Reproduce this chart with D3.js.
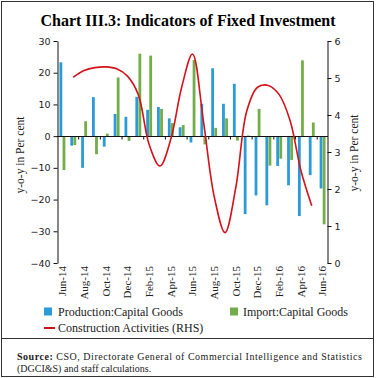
<!DOCTYPE html>
<html>
<head>
<meta charset="utf-8">
<script src="https://cdn.jsdelivr.net/npm/d3@7"></script>
<style>
  body { margin: 0; background: #fff; }
  .serif { font-family: "Liberation Serif", "Times New Roman", serif; }
  .tick text { font-family: "DejaVu Sans", Verdana, sans-serif; font-size: 9.5px; fill: #222; }
</style>
</head>
<body>
<div id="chart"></div>
<script>
// months shown on the category axis
const months = ["Jun-14","Jul-14","Aug-14","Sep-14","Oct-14","Nov-14","Dec-14","Jan-15","Feb-15","Mar-15","Apr-15","May-15",
  "Jun-15","Jul-15","Aug-15","Sep-15","Oct-15","Nov-15","Dec-15","Jan-16","Feb-16","Mar-16","Apr-16","May-16","Jun-16"];

// y-o-y growth, per cent (LHS)
const production = [23.3, -3.0, -10.0, 12.3, -3.3, 7.0, 6.1, 12.4, 8.3, 9.2, 5.6, 2.8,
  -2.0, 10.2, 21.4, 10.2, 16.5, -24.6, -18.7, -21.8, -9.4, -15.5, -25.2, -12.3, -16.5];
const imports = [-10.7, -2.8, 4.7, -5.7, 0.8, 18.5, -1.5, 26.0, 25.4, 8.6, 4.1, 3.5,
  24.0, -2.6, 2.6, 5.6, -1.4, 0.2, 8.6, -9.3, -7.1, -7.5, 23.9, 4.3, -27.8];

// construction activities (RHS), Jul-14 to May-16
const constructionMonths = months.slice(1, 24);
const construction = [5.02, 5.2, 5.28, 5.3, 5.25, 5.05, 4.55, 3.2, 2.62, 3.35, 4.75, 5.65,
  3.85, 1.8, 0.82, 2.05, 4.1, 4.75, 4.8, 4.55, 3.85, 2.5, 1.55];

const leftTicks = [-40, -30, -20, -10, 0, 10, 20, 30];
const rightTicks = [0, 1, 2, 3, 4, 5, 6];
const labelMonths = months.filter((d, i) => i % 2 === 0);

const colors = { production: "#2b9ad6", imports: "#72ad4a", construction: "#d4121a" };

const dimensions = {
  width: 376,
  height: 378,
  margins: { top: 41, bottom: 263, left: 57, right: 328 }
};

const svg = d3.select("#chart").append("svg")
  .attr("width", dimensions.width)
  .attr("height", dimensions.height);

// outer frame
svg.append("rect")
  .attr("x", 1.5).attr("y", 1.5)
  .attr("width", 372).attr("height", 375)
  .attr("fill", "none")
  .attr("stroke", "#333")
  .attr("stroke-width", 1);

svg.append("text")
  .attr("class", "serif")
  .attr("x", 188)
  .attr("y", 26)
  .attr("text-anchor", "middle")
  .style("font-weight", "bold")
  .style("font-size", "16px")
  .text("Chart III.3: Indicators of Fixed Investment");

// scales
const xScale = d3.scaleBand()
  .domain(months)
  .range([dimensions.margins.left, dimensions.margins.right]);

const xInner = d3.scaleBand()
  .domain(["production", "imports"])
  .range([0, xScale.bandwidth()])
  .paddingInner(0.1)
  .paddingOuter(0.8);

const yLeft = d3.scaleLinear()
  .domain([-40, 30])
  .range([dimensions.margins.bottom, dimensions.margins.top]);

const yRight = d3.scaleLinear()
  .domain([0, 6])
  .range([dimensions.margins.bottom, dimensions.margins.top]);

// bars
const series = [
  { key: "production", values: production },
  { key: "imports", values: imports }
];

series.forEach(s => {
  svg.append("g").selectAll("rect")
    .data(s.values)
    .enter().append("rect")
    .attr("x", (d, i) => xScale(months[i]) + xInner(s.key))
    .attr("width", xInner.bandwidth())
    .attr("y", d => yLeft(Math.max(d, 0)))
    .attr("height", d => Math.abs(yLeft(d) - yLeft(0)))
    .attr("fill", colors[s.key]);
});

// zero line with small ticks every two months
const zeroY = Math.round(yLeft(0)) + 0.5;
svg.append("line")
  .attr("x1", xScale.range()[0]).attr("x2", xScale.range()[1])
  .attr("y1", zeroY).attr("y2", zeroY)
  .attr("stroke", "#111");

svg.append("g").selectAll("line")
  .data(months.filter((d, i) => i > 0 && i % 2 === 0))
  .enter().append("line")
  .attr("x1", d => xScale(d)).attr("x2", d => xScale(d))
  .attr("y1", zeroY).attr("y2", zeroY + 3)
  .attr("stroke", "#111");

// axes
const leftAxis = svg.append("g")
  .attr("transform", `translate(${xScale.range()[0] + 0.5},0)`)
  .call(d3.axisLeft(yLeft).tickValues(leftTicks).tickSize(4).tickSizeOuter(0).tickPadding(3));

const rightAxis = svg.append("g")
  .attr("transform", `translate(${xScale.range()[1] - 0.5},0)`)
  .call(d3.axisRight(yRight).tickValues(rightTicks).tickFormat(d3.format("d")).tickSize(4).tickSizeOuter(0).tickPadding(3));

[leftAxis, rightAxis].forEach(a => {
  a.select(".domain").attr("stroke", "#111");
  a.selectAll(".tick line").attr("stroke", "#111");
});

// month labels
svg.append("g").selectAll("text")
  .data(labelMonths)
  .enter().append("text")
  .attr("class", "serif")
  .attr("transform", d => `translate(${xScale(d) + xScale.bandwidth() / 2},266) rotate(-90)`)
  .attr("dy", "0.35em")
  .attr("text-anchor", "end")
  .style("font-size", "11px")
  .attr("fill", "#222")
  .text(d => d);

// axis titles
svg.append("text")
  .attr("class", "serif")
  .attr("transform", "translate(20,155) rotate(-90)")
  .attr("dy", "0.35em")
  .attr("text-anchor", "middle")
  .style("font-size", "11.5px")
  .attr("fill", "#222")
  .text("y-o-y in Per cent");

svg.append("text")
  .attr("class", "serif")
  .attr("transform", "translate(354,153) rotate(-90)")
  .attr("dy", "0.35em")
  .attr("text-anchor", "middle")
  .style("font-size", "11.5px")
  .attr("fill", "#222")
  .text("y-o-y in Per cent");

// construction line
const line = d3.line()
  .x((d, i) => xScale(constructionMonths[i]) + xScale.bandwidth() / 2)
  .y(d => yRight(d))
  .curve(d3.curveCatmullRom.alpha(0.5));

svg.append("path")
  .datum(construction)
  .attr("fill", "none")
  .attr("stroke", colors.construction)
  .attr("stroke-width", 1.6)
  .attr("d", line);

// legend
const legend = svg.append("g").attr("class", "serif").style("font-size", "12px").attr("fill", "#222");

legend.append("rect").attr("x", 44).attr("y", 307.5).attr("width", 8).attr("height", 8).attr("fill", colors.production);
legend.append("text").attr("x", 58).attr("y", 315.5).text("Production:Capital Goods");

legend.append("rect").attr("x", 230).attr("y", 307.5).attr("width", 8).attr("height", 8).attr("fill", colors.imports);
legend.append("text").attr("x", 243).attr("y", 315.5).text("Import:Capital Goods");

legend.append("line").attr("x1", 44).attr("x2", 55).attr("y1", 328).attr("y2", 328)
  .attr("stroke", colors.construction).attr("stroke-width", 2);
legend.append("text").attr("x", 58).attr("y", 332).text("Construction Activities (RHS)");

// separator
svg.append("line")
  .attr("x1", 1.5).attr("x2", 373.5)
  .attr("y1", 338.5).attr("y2", 338.5)
  .attr("stroke", "#333");

// source note
const source = svg.append("g").attr("class", "serif").style("font-size", "10px").attr("fill", "#222");
const line1 = source.append("text")
  .attr("x", 17).attr("y", 360)
  .attr("textLength", 345)
  .attr("lengthAdjust", "spacing");
line1.append("tspan").style("font-weight", "bold").text("Source:");
line1.append("tspan").text(" CSO, Directorate General of Commercial Intelligence and Statistics");

source.append("text")
  .attr("x", 17).attr("y", 372)
  .text("(DGCI&S) and staff calculations.");
</script>
</body>
</html>
